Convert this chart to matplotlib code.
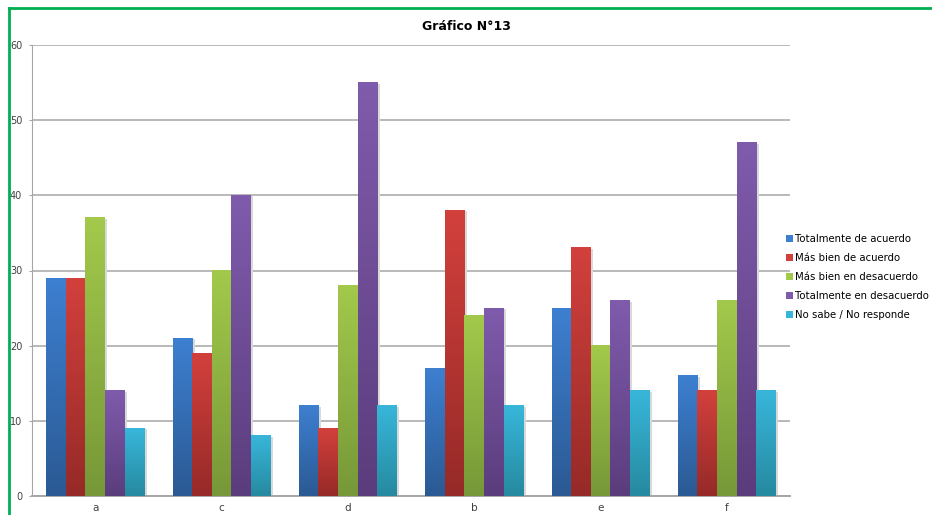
import numpy as np
import matplotlib
matplotlib.use('Agg')
import matplotlib.pyplot as plt
from matplotlib.colors import LinearSegmentedColormap
from matplotlib.patches import Rectangle, Patch

groups = ['a', 'c', 'd', 'b', 'e', 'f']
series = ['Totalmente de acuerdo', 'Más bien de acuerdo', 'Más bien en desacuerdo',
          'Totalmente en desacuerdo', 'No sabe / No responde']
tot_acuerdo = [29, 21, 12, 17, 25, 16]
mas_acuerdo = [29, 19, 9, 38, 33, 14]
mas_desacuerdo = [37, 30, 28, 24, 20, 26]
tot_desacuerdo = [14, 40, 55, 25, 26, 47]
no_sabe = [9, 8, 12, 12, 14, 14]
values = [tot_acuerdo, mas_acuerdo, mas_desacuerdo, tot_desacuerdo, no_sabe]

# (top colour, bottom colour) per series
colors = [('#3d7fd0', '#2b5a94'), ('#d2403c', '#962a28'), ('#a2c94b', '#779838'),
          ('#7f5bac', '#5b3d7d'), ('#38b6da', '#268aa0')]

plt.rcParams['font.family'] = ['DejaVu Sans']

fig = plt.figure(figsize=(9.32, 5.15), dpi=100)
ax = fig.add_axes([32/932, 1-496/515, (790-32)/932, (496-45)/515])

width = 0.155
x = np.arange(len(groups))
for i, vals in enumerate(values):
  top, bot = colors[i]
  cmap = LinearSegmentedColormap.from_list('g%d' % i, [bot, top])
  grad = np.linspace(1, 0, 64).reshape(-1, 1)
  for j, v in enumerate(vals):
    x0 = x[j] + (i - 2) * width - width/2
    # soft shadow on the right
    ax.add_patch(Rectangle((x0 + 0.02, 0), width, v - 0.15, color='#d9d9d9', zorder=2, lw=0))
    ax.imshow(grad, cmap=cmap, extent=(x0, x0 + width, 0, v), aspect='auto',
              zorder=3, interpolation='bilinear')

ax.set_xlim(-0.5, len(groups) - 0.5)
ax.set_ylim(0, 60)
ax.set_yticks(range(0, 61, 10))
ax.set_xticks(x)
ax.set_xticklabels(groups)
ax.yaxis.grid(True, color='#a6a6a6', lw=1.1, zorder=1)
ax.set_axisbelow(True)
for s in ['top', 'right']:
  ax.spines[s].set_visible(False)
ax.spines['left'].set_color('#a6a6a6')
ax.spines['bottom'].set_color('#a6a6a6')
ax.spines['bottom'].set_linewidth(1.4)
ax.tick_params(axis='y', length=2, color='#a6a6a6', pad=5, labelsize=7, labelcolor='#404040')
ax.tick_params(axis='x', length=0, pad=5, labelsize=7.5, labelcolor='#404040')

fig.text(466/932, 1-27/515, 'Gráfico N°13', ha='center', va='center',
         fontsize=9, fontweight='bold')

handles = [Patch(facecolor=c[0], edgecolor='none') for c in colors]
fig.legend(handles, series, loc='center left', bbox_to_anchor=(786/932, 1-277/515),
           frameon=False, fontsize=7.3, handlelength=0.7, handleheight=0.7,
           handletextpad=0.2, labelspacing=0.88, borderaxespad=0, borderpad=0)

# green frame
fig.add_artist(plt.Line2D([9/932, 9/932], [0, 1-8/515], color='#00b050', lw=2,
                          transform=fig.transFigure))
fig.add_artist(plt.Line2D([9/932, 1], [1-8/515, 1-8/515], color='#00b050', lw=2,
                          transform=fig.transFigure))

plt.savefig('out.png', dpi=100)
